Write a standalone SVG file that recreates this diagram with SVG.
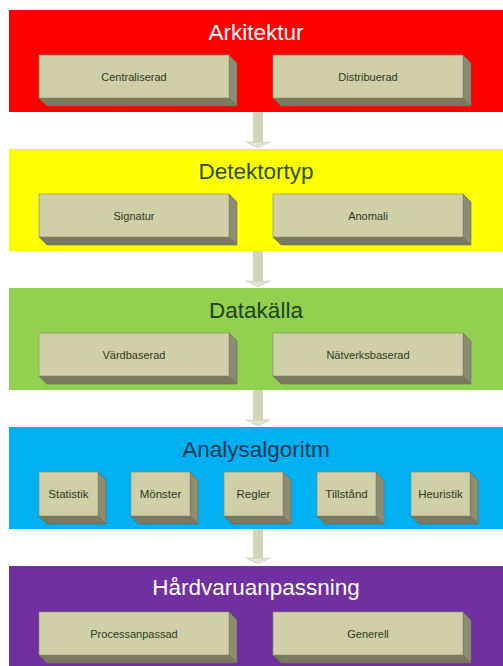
<svg xmlns="http://www.w3.org/2000/svg" width="503" height="666" viewBox="0 0 503 666">
<style>
.band-title{font-family:"Liberation Sans",Arial,sans-serif;font-size:22.5px;text-anchor:middle}
.lbl{font-family:"Liberation Sans",Arial,sans-serif;font-size:11px;fill:#2e3a22;text-anchor:middle;dominant-baseline:central}
.sl{font-size:11.5px}
.front{fill:#cfcfa8;stroke:#8a8a6c;stroke-width:0.6}
.side{fill:#8c8c72;stroke:#6c6c55;stroke-width:0.6}
.bottom{fill:#7a7a60;stroke:#6c6c55;stroke-width:0.6}
.arrow{fill:#d4d4b8}
.head{fill:#e2e2d2;stroke:#c8c8b0;stroke-width:0.6}
</style>
<defs>
<g id="wide">
<polygon class="side" points="190,0 198,8 198,51 190,43"/>
<polygon class="bottom" points="0,43 8,51 198,51 190,43"/>
<rect class="front" x="0" y="0" width="190" height="43"/>
</g>
<g id="small">
<polygon class="side" points="59,0 67,8 67,52 59,44"/>
<polygon class="bottom" points="0,44 8,52 67,52 59,44"/>
<rect class="front" x="0" y="0" width="59" height="44"/>
</g>
</defs>
<rect width="503" height="666" fill="#ffffff"/>

<g id="connectors">
<g transform="translate(0,112)"><polygon class="arrow" points="253,0 263,0 263,30 253,30"/><polygon class="head" points="246,30 270,30 258,36"/></g>
<g transform="translate(0,251)"><polygon class="arrow" points="253,0 263,0 263,30 253,30"/><polygon class="head" points="246,30 270,30 258,36"/></g>
<g transform="translate(0,390)"><polygon class="arrow" points="253,0 263,0 263,30 253,30"/><polygon class="head" points="246,30 270,30 258,36"/></g>
<g transform="translate(0,529)"><polygon class="arrow" points="253,0 263,0 263,29 253,29"/><polygon class="head" points="246,29 270,29 258,35"/></g>
</g>

<g id="arkitektur">
<rect x="9" y="10" width="494" height="102" fill="#ff0000"/>
<text class="band-title" x="256" y="40" fill="#ffffff">Arkitektur</text>
<g id="centraliserad"><use href="#wide" x="39" y="55"/><text class="lbl" x="134" y="77">Centraliserad</text></g>
<g id="distribuerad"><use href="#wide" x="273" y="55"/><text class="lbl" x="368" y="77">Distribuerad</text></g>
</g>

<g id="detektortyp">
<rect x="9" y="149" width="494" height="102" fill="#ffff00"/>
<text class="band-title" x="256" y="179" fill="#2f4f1f">Detektortyp</text>
<g id="signatur"><use href="#wide" x="39" y="194"/><text class="lbl" x="134" y="216">Signatur</text></g>
<g id="anomali"><use href="#wide" x="273" y="194"/><text class="lbl" x="368" y="216">Anomali</text></g>
</g>

<g id="datakalla">
<rect x="9" y="288" width="494" height="102" fill="#92d050"/>
<text class="band-title" x="256" y="318" fill="#24401a">Datakälla</text>
<g id="vardbaserad"><use href="#wide" x="39" y="333"/><text class="lbl" x="134" y="355">Värdbaserad</text></g>
<g id="natverksbaserad"><use href="#wide" x="273" y="333"/><text class="lbl" x="368" y="355">Nätverksbaserad</text></g>
</g>

<g id="analysalgoritm">
<rect x="9" y="427" width="494" height="102" fill="#00b0f0"/>
<text class="band-title" x="256" y="457" fill="#173a5a">Analysalgoritm</text>
<g id="statistik"><use href="#small" x="39" y="472"/><text class="lbl sl" x="68.5" y="494">Statistik</text></g>
<g id="monster"><use href="#small" x="131" y="472"/><text class="lbl sl" x="160.5" y="494">Mönster</text></g>
<g id="regler"><use href="#small" x="224" y="472"/><text class="lbl sl" x="253.5" y="494">Regler</text></g>
<g id="tillstand"><use href="#small" x="317" y="472"/><text class="lbl sl" x="346.5" y="494">Tillstånd</text></g>
<g id="heuristik"><use href="#small" x="411" y="472"/><text class="lbl sl" x="440.5" y="494">Heuristik</text></g>
</g>

<g id="hardvaruanpassning">
<rect x="9" y="566" width="494" height="100" fill="#7030a0"/>
<text class="band-title" x="256" y="595" fill="#ffffff">Hårdvaruanpassning</text>
<g id="processanpassad"><use href="#wide" x="39" y="612"/><text class="lbl" x="134" y="634">Processanpassad</text></g>
<g id="generell"><use href="#wide" x="273" y="612"/><text class="lbl" x="368" y="634">Generell</text></g>
</g>
</svg>
